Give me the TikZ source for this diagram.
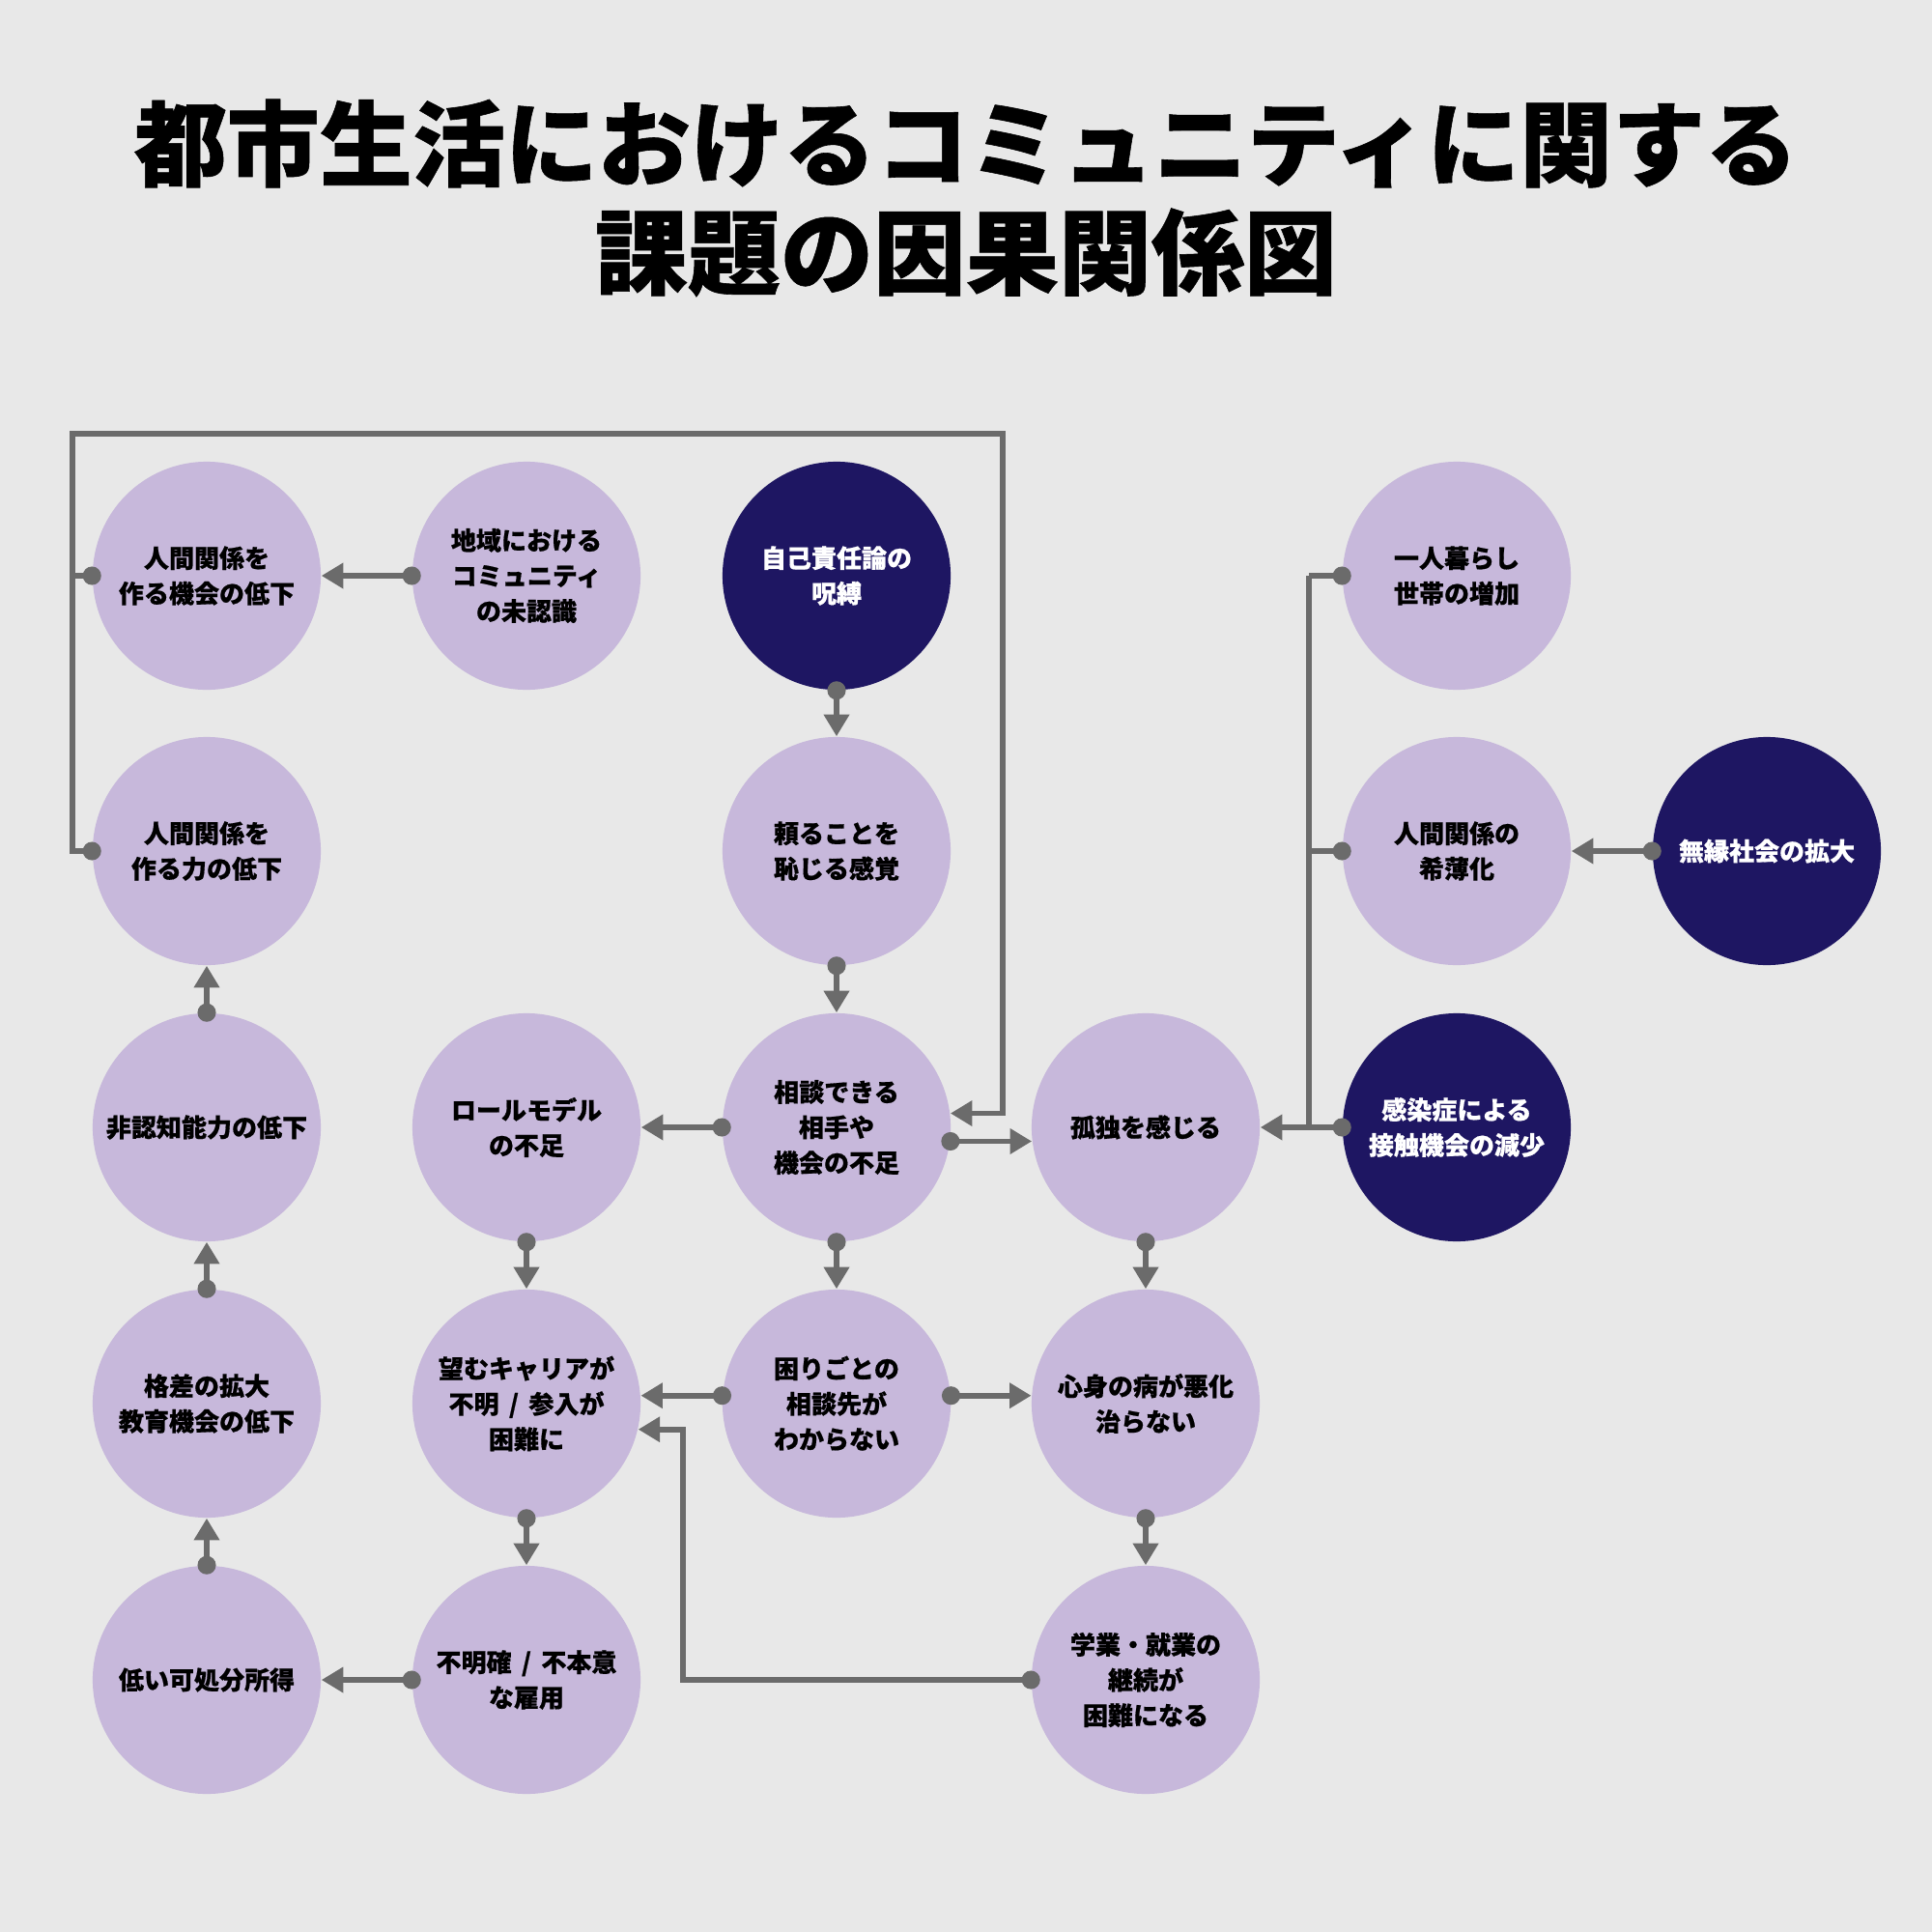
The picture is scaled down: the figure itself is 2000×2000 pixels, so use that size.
\documentclass[tikz,border=0pt]{standalone}
\usepackage{fontspec}
\setmainfont{Noto Sans CJK JP}
\newfontfamily\heavy{Noto Sans CJK JP Black}[FakeBold=0.6]
\usetikzlibrary{arrows.meta}
\definecolor{bg}{RGB}{232,232,232}
\definecolor{lav}{RGB}{199,184,219}
\definecolor{navy}{RGB}{30,22,98}
\definecolor{lgray}{RGB}{107,107,107}
\newcommand{\sls}{\hspace{.4em}/\hspace{.4em}}
\begin{document}
\begin{tikzpicture}[x=0.01cm,y=-0.01cm,
 nd/.style={circle, minimum size=2.36cm, inner sep=0pt, fill=lav, text=black, font=\fontsize{7.4}{10.4}\selectfont\heavy, align=center},
 dk/.style={nd, fill=navy, text=white},
 conn/.style={draw=lgray, line width=1.6pt, {Circle[length=5.4pt]}-{Triangle[length=6.4pt,width=7.2pt]}, shorten <=-2.7pt},
 dotonly/.style={draw=lgray, line width=1.6pt, {Circle[length=5.4pt]}-, shorten <=-2.7pt},
 plain/.style={draw=lgray, line width=1.6pt}]
\fill[bg] (0,0) rectangle (2000,2000);
\useasboundingbox (0,0) rectangle (2000,2000);

\node[font=\fontsize{27.3}{31.9}\selectfont\heavy, align=center] (title) at (1000,205) {都市生活におけるコミュニティに関する\\課題の因果関係図};

\node[nd] (kikai) at (214,596) {人間関係を\\作る機会の低下};
\node[nd] (chiiki) at (545,596) {地域における\\コミュニティ\\の未認識};
\node[dk] (jiko) at (866,596) {自己責任論の\\呪縛};
\node[nd] (hitori) at (1508,596) {一人暮らし\\世帯の増加};
\node[nd] (chikara) at (214,881) {人間関係を\\作る力の低下};
\node[nd] (tayoru) at (866,881) {頼ることを\\恥じる感覚};
\node[nd] (kihaku) at (1508,881) {人間関係の\\希薄化};
\node[dk] (muen) at (1829,881) {無縁社会の拡大};
\node[nd] (hinin) at (214,1167) {非認知能力の低下};
\node[nd] (role) at (545,1167) {ロールモデル\\の不足};
\node[nd] (sodan) at (866,1167) {相談できる\\相手や\\機会の不足};
\node[nd] (kodoku) at (1186,1167) {孤独を感じる};
\node[dk] (kansen) at (1508,1167) {感染症による\\接触機会の減少};
\node[nd] (kakusa) at (214,1453) {格差の拡大\\教育機会の低下};
\node[nd] (career) at (545,1453) {望むキャリアが\\不明\sls 参入が\\困難に};
\node[nd] (komari) at (866,1453) {困りごとの\\相談先が\\わからない};
\node[nd] (shinshin) at (1186,1453) {心身の病が悪化\\治らない};
\node[nd] (shotoku) at (214,1739) {低い可処分所得};
\node[nd] (fumei) at (545,1739) {不明確\sls 不本意\\な雇用};
\node[nd] (gakugyo) at (1186,1739) {学業・就業の\\継続が\\困難になる};

\coordinate (lA) at (75,596);
\coordinate (lB) at (75,881);
\coordinate (lC) at (75,449);
\coordinate (lD) at (1038,449);
\coordinate (rA) at (1355,596);
\coordinate (rB) at (1355,881);
\coordinate (rC) at (1355,1167);
\coordinate (bA) at (707,1739);

\draw[conn] (chiiki.west) -- (kikai.east);
\draw[conn] (jiko.south) -- (tayoru.north);
\draw[conn] (tayoru.south) -- (sodan.north);
\draw[conn] (sodan.west) -- (role.east);
\draw[conn] (sodan.-7) -- (kodoku.-173);
\draw[conn] (kodoku.south) -- (shinshin.north);
\draw[conn] (role.south) -- (career.north);
\draw[conn] (sodan.south) -- (komari.north);
\draw[conn] (komari.176) -- (career.4);
\draw[conn] (komari.4) -- (shinshin.176);
\draw[conn] (career.south) -- (fumei.north);
\draw[conn] (fumei.west) -- (shotoku.east);
\draw[conn] (shinshin.south) -- (gakugyo.north);
\draw[conn] (shotoku.north) -- (kakusa.south);
\draw[conn] (kakusa.north) -- (hinin.south);
\draw[conn] (hinin.north) -- (chikara.south);
\draw[conn] (muen.west) -- (kihaku.east);

\draw[dotonly] (kikai.west) -- (lA);
\draw[conn] (chikara.west) -- (lB) -- (lC) -- (lD) |- (sodan.7);

\draw[plain] (rA) -- (rC);
\draw[dotonly] (hitori.west) -- (rA);
\draw[dotonly] (kihaku.west) -- (rB);
\draw[conn] (kansen.west) -- (kodoku.east);

\draw[conn] (gakugyo.west) -- (bA) |- (career.-13);
\end{tikzpicture}
\end{document}
